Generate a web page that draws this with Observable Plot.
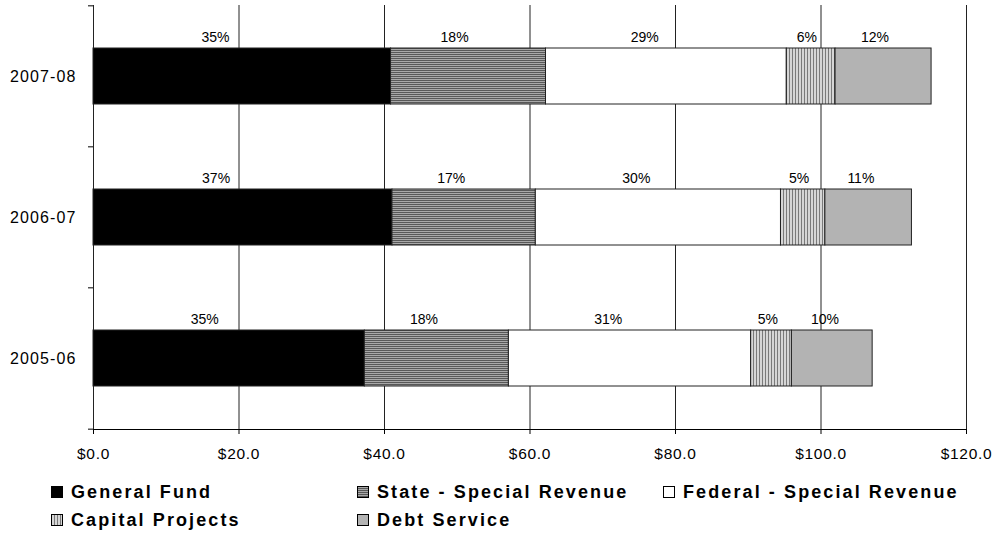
<!DOCTYPE html>
<html><head><meta charset="utf-8">
<script src="https://cdn.jsdelivr.net/npm/d3@7"></script>
<script src="https://cdn.jsdelivr.net/npm/@observablehq/plot@0.6"></script>
<style>
body{margin:0;background:#fff;font-family:"Liberation Sans",Arial,sans-serif;}
#chart svg{display:block}
#chart g[aria-label="x-axis tick label"]{letter-spacing:0.7px}
#chart g[aria-label="y-axis tick label"]{letter-spacing:1.1px}
#legend{display:grid;grid-template-columns:306px 306px 306px;grid-auto-rows:28px;padding-left:51px;font-weight:bold;font-size:18px;letter-spacing:2.1px;color:#000;}
.item{display:flex;align-items:center;gap:8px;white-space:nowrap}
.item svg{flex:none;display:block}
</style></head><body>
<div id="chart"></div><div id="legend"></div>
<script>
const years = ["2007-08", "2006-07", "2005-06"];
const funds = ["General Fund", "State - Special Revenue", "Federal - Special Revenue", "Capital Projects", "Debt Service"];
// $ millions, one value per fund, in fund order
const values0708 = [40.9, 21.3, 33.1, 6.7, 13.2];
const values0607 = [41.1, 19.7, 33.7, 6.1, 11.9];
const values0506 = [37.3, 19.8, 33.3, 5.6, 11.1];
const labels0708 = ["35%", "18%", "29%", "6%", "12%"];
const labels0607 = ["37%", "17%", "30%", "5%", "11%"];
const labels0506 = ["35%", "18%", "31%", "5%", "10%"];
const xTicks = [0, 20, 40, 60, 80, 100, 120];

const fillOf = {
  "General Fund": "#000000",
  "State - Special Revenue": "url(#hstripe)",
  "Federal - Special Revenue": "#ffffff",
  "Capital Projects": "url(#vstripe)",
  "Debt Service": "#b3b3b3"
};

const table = [];
[[years[0], values0708, labels0708], [years[1], values0607, labels0607], [years[2], values0506, labels0506]]
  .forEach(([year, vals, labs]) => {
    let cum = 0;
    vals.forEach((v, i) => {
      table.push({year, fund: funds[i], value: v, start: cum, label: labs[i]});
      cum += v;
    });
  });

const H = 478, MT = 5, MB = 49;
const step = (H - MT - MB) / years.length;

const chart = Plot.plot({
  width: 992, height: H,
  marginLeft: 93, marginRight: 26, marginTop: MT, marginBottom: MB,
  style: {fontFamily: '"Liberation Sans", Arial, sans-serif', fontSize: "16px", color: "#000", background: "#fff"},
  x: {domain: [0, 120], label: null},
  y: {domain: years, paddingInner: 0.6, paddingOuter: 0.3, label: null},
  color: {type: "identity"},
  marks: [
    Plot.ruleX(xTicks, {stroke: "#222", strokeWidth: 1}),
    Plot.barX(table, Plot.stackX({x: "value", y: "year", fill: d => fillOf[d.fund], stroke: "#222", strokeWidth: 1})),
    Plot.text(table, {x: d => d.start + 0.41 * d.value, y: "year", text: "label", dy: -39, fontSize: 14, fill: "#000"}),
    Plot.axisY({tickSize: 0, tickPadding: 17, fontSize: 16, label: null}),
    Plot.axisY({ticks: years, tickSize: 5, tickFormat: () => "", dy: -step / 2, stroke: "#000", label: null}),
    Plot.axisY({ticks: [years[years.length - 1]], tickSize: 5, tickFormat: () => "", dy: step / 2, stroke: "#000", label: null}),
    Plot.axisX({ticks: xTicks, tickFormat: d => "$" + d.toFixed(1), tickSize: 5, tickPadding: 13, fontSize: 15.5, stroke: "#000", label: null}),
    Plot.frame({anchor: "bottom", stroke: "#000"})
  ]
});

const defs = d3.select(chart).insert("defs", ":first-child");
const hp = defs.append("pattern").attr("id", "hstripe").attr("patternUnits", "userSpaceOnUse").attr("width", 4).attr("height", 2);
hp.append("rect").attr("width", 4).attr("height", 2).attr("fill", "#a8a8a8");
hp.append("rect").attr("width", 4).attr("height", 1).attr("fill", "#585858");
const vp = defs.append("pattern").attr("id", "vstripe").attr("patternUnits", "userSpaceOnUse").attr("width", 3).attr("height", 4);
vp.append("rect").attr("width", 3).attr("height", 4).attr("fill", "#d6d6d6");
vp.append("rect").attr("width", 1).attr("height", 4).attr("fill", "#7a7a7a");

document.getElementById("chart").appendChild(chart);

const legend = d3.select("#legend");
funds.forEach(f => {
  const item = legend.append("div").attr("class", "item");
  const s = item.append("svg").attr("width", 12).attr("height", 12);
  s.append("rect").attr("x", 0.5).attr("y", 0.5).attr("width", 11).attr("height", 11)
    .attr("fill", fillOf[f]).attr("stroke", "#000").attr("stroke-width", 1);
  item.append("span").text(f);
});
</script>
</body></html>
